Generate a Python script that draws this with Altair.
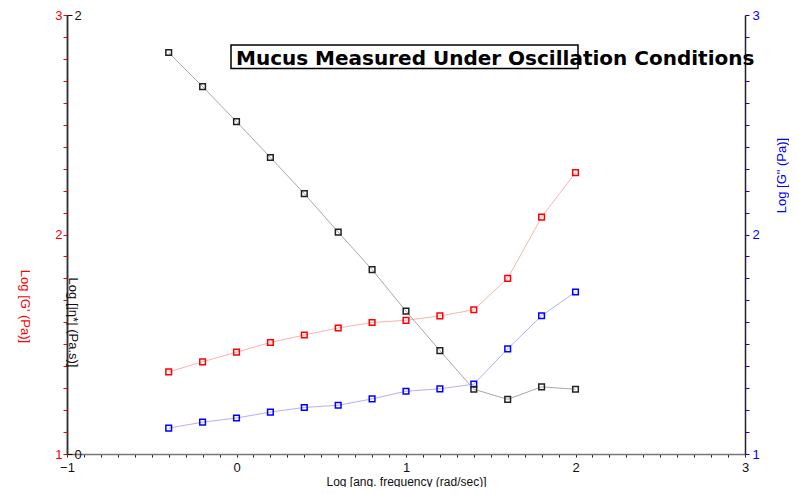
import altair as alt
import pandas as pd

# log angular frequency (rad/sec)
log_freq = [-0.4, -0.2, 0.0, 0.2, 0.4, 0.6, 0.8, 1.0, 1.2, 1.4, 1.6, 1.8, 2.0]
# Log |eta*| (Pa.s)
log_eta = [1.829, 1.674, 1.514, 1.351, 1.186, 1.011, 0.840, 0.651, 0.471, 0.295, 0.249, 0.306, 0.295]
# Log G' (Pa)
log_gp = [1.374, 1.420, 1.464, 1.508, 1.542, 1.574, 1.599, 1.609, 1.629, 1.657, 1.800, 2.079, 2.282]
# Log G'' (Pa)
log_gpp = [1.118, 1.145, 1.164, 1.191, 1.212, 1.222, 1.251, 1.286, 1.297, 1.318, 1.479, 1.630, 1.738]

title_text = "Mucus Measured Under Oscillation Conditions"
x_title = "Log [ang. frequency (rad/sec)]"
gp_title = "Log [G' (Pa)]"
eta_title = "Log [|\u03b7*| (Pa.s)]"
gpp_title = 'Log [G" (Pa)]'

df = pd.DataFrame({"x": log_freq, "eta": log_eta, "gp": log_gp, "gpp": log_gpp})

FONT = "Liberation Sans"
W, H = 678, 439

x_ticks = [round(-1 + 0.1 * i, 1) for i in range(41)]
y_ticks = [round(1 + 0.1 * i, 1) for i in range(21)]
int_label = "abs(datum.value - round(datum.value)) < 0.01 ? format(datum.value, 'd') : ''"

x_enc = alt.X(
    "x:Q",
    scale=alt.Scale(domain=[-1, 3], nice=False, zero=False),
    axis=alt.Axis(
        values=x_ticks, labelExpr=int_label, tickSize=3, tickColor="#222",
        domainColor="#777", domainWidth=1.5, labelPadding=4, labelFlush=False,
        labelFont=FONT, labelFontSize=13, labelColor="#111", grid=False,
        title=x_title, titleFont=FONT, titleFontSize=12, titleFontWeight="normal",
        titleColor="#111", titleY=27, titleBaseline="middle",
    ),
)


def series(col, line_color, pt_color, domain, axis):
    return alt.Chart(df).mark_line(
        color=line_color, strokeWidth=1,
        point=alt.OverlayMarkDef(shape="square", filled=False, color=pt_color,
                                 size=32, strokeWidth=1.5),
    ).encode(
        x=x_enc,
        y=alt.Y(f"{col}:Q", scale=alt.Scale(domain=domain, nice=False, zero=False), axis=axis),
    )


red_axis = alt.Axis(
    orient="left", values=y_ticks, labelExpr=int_label, labelColor="red",
    tickColor="red", tickSize=4, domainColor="#333", domainWidth=1.5,
    labelFont=FONT, labelFontSize=13, labelPadding=1, labelFlush=False, grid=False,
    title=gp_title, titleColor="red", titleFont=FONT, titleFontSize=13,
    titleFontWeight="normal", titleAngle=90, titleX=-43, titleY=291,
    titleAlign="center", titleBaseline="middle",
)
black_axis = alt.Axis(
    orient="right", offset=-W, values=[0, 1, 2], format="d", labelColor="#111",
    tickColor="#111", tickSize=5, domainColor="#333", domainWidth=1.5,
    labelFont=FONT, labelFontSize=13, labelPadding=2, labelFlush=False, grid=False,
    title=eta_title, titleColor="#111", titleFont=FONT, titleFontSize=13,
    titleFontWeight="normal", titleAngle=90, titleX=5, titleY=307,
    titleAlign="center", titleBaseline="middle",
)
blue_axis = alt.Axis(
    orient="right", values=y_ticks, labelExpr=int_label, labelColor="blue",
    tickColor="blue", tickSize=4, domainColor="#222", domainWidth=1.5,
    labelFont=FONT, labelFontSize=13, labelPadding=3, labelFlush=False, grid=False,
    title=gpp_title, titleColor="blue", titleFont=FONT, titleFontSize=13,
    titleFontWeight="normal", titleAngle=270, titleX=36, titleY=160,
    titleAlign="center", titleBaseline="middle",
)

red = series("gp", "#ffb0b0", "red", [1, 3], red_axis)
black = series("eta", "#a8a8a8", "#222222", [0, 2], black_axis)
blue = series("gpp", "#b0b0ff", "blue", [1, 3], blue_axis)

ann = pd.DataFrame({"t": [title_text]})
box = alt.Chart(ann).mark_rect(fill="white", fillOpacity=0, stroke="black", strokeWidth=1.5).encode(
    x=alt.value(164), x2=alt.value(511), y=alt.value(30), y2=alt.value(53.5)
)
title = alt.Chart(ann).mark_text(
    align="left", baseline="alphabetic", font="DejaVu Sans", fontWeight="bold",
    fontSize=20, color="black",
).encode(x=alt.value(169), y=alt.value(49.5), text="t:N")

chart = alt.layer(red, blue, black, box, title).resolve_scale(y="independent").properties(
    width=W, height=H,
    autosize=alt.AutoSizeParams(type="none"),
    padding={"left": 59, "top": 7, "right": 44, "bottom": 33},
).configure_view(stroke=None)

chart.save("out.html", embed_options={"renderer": "svg", "actions": False})
